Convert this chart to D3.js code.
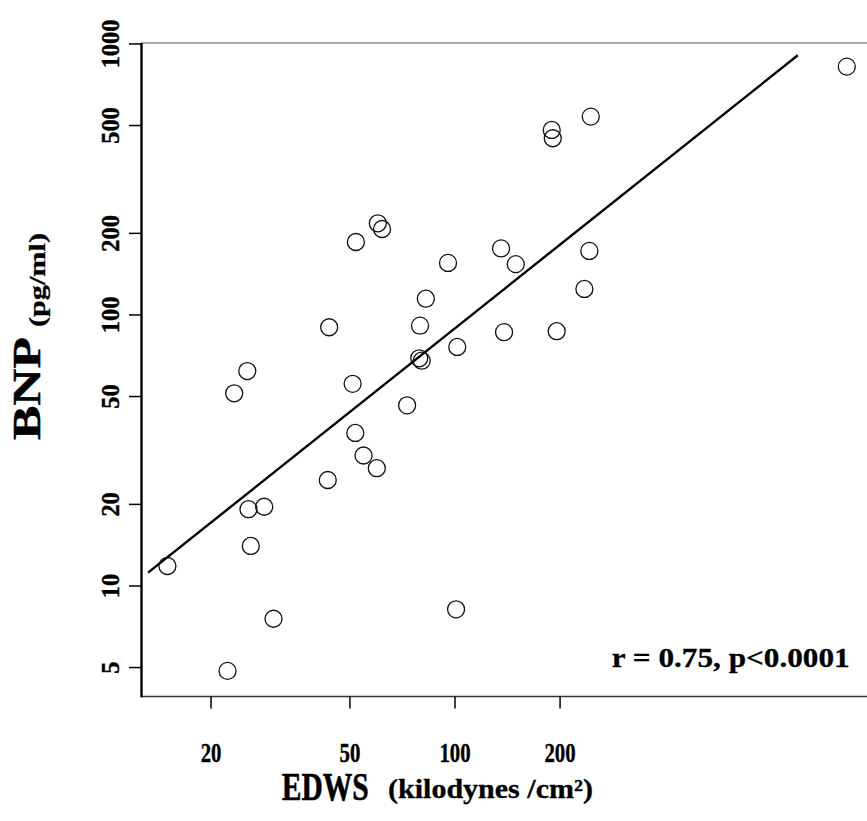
<!DOCTYPE html>
<html>
<head>
<meta charset="utf-8">
<script src="https://cdn.jsdelivr.net/npm/d3@7"></script>
<style>
  body { margin: 0; background: #fff; }
  svg { display: block; }
  text { font-family: "Liberation Serif", "Times New Roman", serif; font-weight: bold; fill: #000; }
</style>
</head>
<body>
<svg id="chart" width="867" height="821"></svg>
<script>
// EDWS (kilodynes/cm²) vs BNP (pg/ml), log-log
const edws = [15.0, 22.3, 23.3, 25.4, 25.6, 26.0, 28.4, 30.2, 43.2, 43.6, 50.9, 51.8, 52.0, 54.7, 59.7, 60.1, 61.8, 72.9, 79.4, 79.0, 80.3, 82.5, 95.5, 100.7, 101.5, 135.5, 138.2, 149.3, 189.3, 190.6, 195.6, 234.8, 242.6, 244.9, 1326];
const bnp  = [11.85, 4.86, 51.4, 62.1, 19.2, 14.05, 19.6, 7.57, 24.6, 90.1, 55.7, 36.7, 185.9, 30.3, 27.2, 217.9, 207.6, 46.4, 91.3, 69.2, 67.8, 114.8, 155.6, 8.2, 76.2, 176.0, 86.4, 154.0, 481.6, 448.7, 87.1, 124.7, 172.3, 539.3, 824.6];
const fitX = [13.2, 960];
const fitY = [11.2, 908];
const xTicks = [20, 50, 100, 200];
const yTicks = [5, 10, 20, 50, 100, 200, 500, 1000];
const statText = "r = 0.75, p<0.0001";

const svg = d3.select("#chart");
const L = 141, R = 867, T = 43, B = 696.5;
const x = d3.scaleLog().domain([12.6, 1515]).range([L, R]);
const y = d3.scaleLog().domain([3.91, 1008]).range([B, T]);

// frame
svg.append("line").attr("x1", L).attr("x2", R).attr("y1", T).attr("y2", T)
  .attr("stroke", "#555").attr("stroke-width", 1.2);
svg.append("line").attr("x1", L).attr("x2", R).attr("y1", B).attr("y2", B)
  .attr("stroke", "#333").attr("stroke-width", 1.4);
svg.append("line").attr("x1", L + 0.5).attr("x2", L + 0.5).attr("y1", T).attr("y2", B + 0.7)
  .attr("stroke", "#000").attr("stroke-width", 2.4);

// y axis ticks and labels
const yg = svg.append("g");
yTicks.forEach(v => {
  yg.append("line").attr("x1", L - 12).attr("x2", L).attr("y1", y(v)).attr("y2", y(v))
    .attr("stroke", "#000").attr("stroke-width", 1.5);
  const s = String(v);
  yg.append("text")
    .attr("transform", `translate(118.5,${y(v)}) rotate(-90)`)
    .attr("text-anchor", "middle")
    .attr("font-size", 25)
    .attr("stroke", "#000").attr("stroke-width", 0.4)
    .attr("textLength", 12.2 * s.length)
    .attr("lengthAdjust", "spacingAndGlyphs")
    .text(s);
});

// x axis ticks and labels
const xg = svg.append("g");
xTicks.forEach(v => {
  xg.append("line").attr("x1", x(v)).attr("x2", x(v)).attr("y1", B).attr("y2", B + 12)
    .attr("stroke", "#000").attr("stroke-width", 1.5);
  const s = String(v);
  xg.append("text")
    .attr("x", x(v)).attr("y", 762)
    .attr("text-anchor", "middle")
    .attr("font-size", 27)
    .attr("stroke", "#000").attr("stroke-width", 0.4)
    .attr("textLength", 10.4 * s.length)
    .attr("lengthAdjust", "spacingAndGlyphs")
    .text(s);
});

// regression line
svg.append("path")
  .datum(fitX.map((d, i) => [d, fitY[i]]))
  .attr("d", d3.line().x(d => x(d[0])).y(d => y(d[1])))
  .attr("stroke", "#000").attr("stroke-width", 2.4).attr("fill", "none");

// points
svg.append("g").selectAll("circle")
  .data(edws.map((d, i) => [d, bnp[i]]))
  .join("circle")
  .attr("cx", d => x(d[0])).attr("cy", d => y(d[1]))
  .attr("r", 8.5)
  .attr("fill", "none").attr("stroke", "#111").attr("stroke-width", 1.3);

// stat text
svg.append("text").attr("x", 611.7).attr("y", 667)
  .attr("font-size", 28)
  .attr("stroke", "#000").attr("stroke-width", 0.3)
  .attr("textLength", 238).attr("lengthAdjust", "spacingAndGlyphs")
  .text(statText);

// x title
svg.append("text").attr("x", 281.7).attr("y", 800)
  .attr("font-size", 40)
  .attr("stroke", "#000").attr("stroke-width", 0.6)
  .attr("textLength", 87).attr("lengthAdjust", "spacingAndGlyphs")
  .text("EDWS");
svg.append("text").attr("x", 388).attr("y", 798)
  .attr("font-size", 27)
  .attr("stroke", "#000").attr("stroke-width", 0.3)
  .attr("textLength", 205).attr("lengthAdjust", "spacingAndGlyphs")
  .text("(kilodynes /cm²)");

// y title
svg.append("text").attr("transform", "translate(40,440) rotate(-90)")
  .attr("font-size", 41)
  .attr("stroke", "#000").attr("stroke-width", 0.5)
  .attr("textLength", 103).attr("lengthAdjust", "spacingAndGlyphs")
  .text("BNP");
svg.append("text").attr("transform", "translate(44.5,327) rotate(-90)")
  .attr("font-size", 24)
  .attr("stroke", "#000").attr("stroke-width", 0.3)
  .attr("textLength", 94).attr("lengthAdjust", "spacingAndGlyphs")
  .text("(pg/ml)");
</script>
</body>
</html>
